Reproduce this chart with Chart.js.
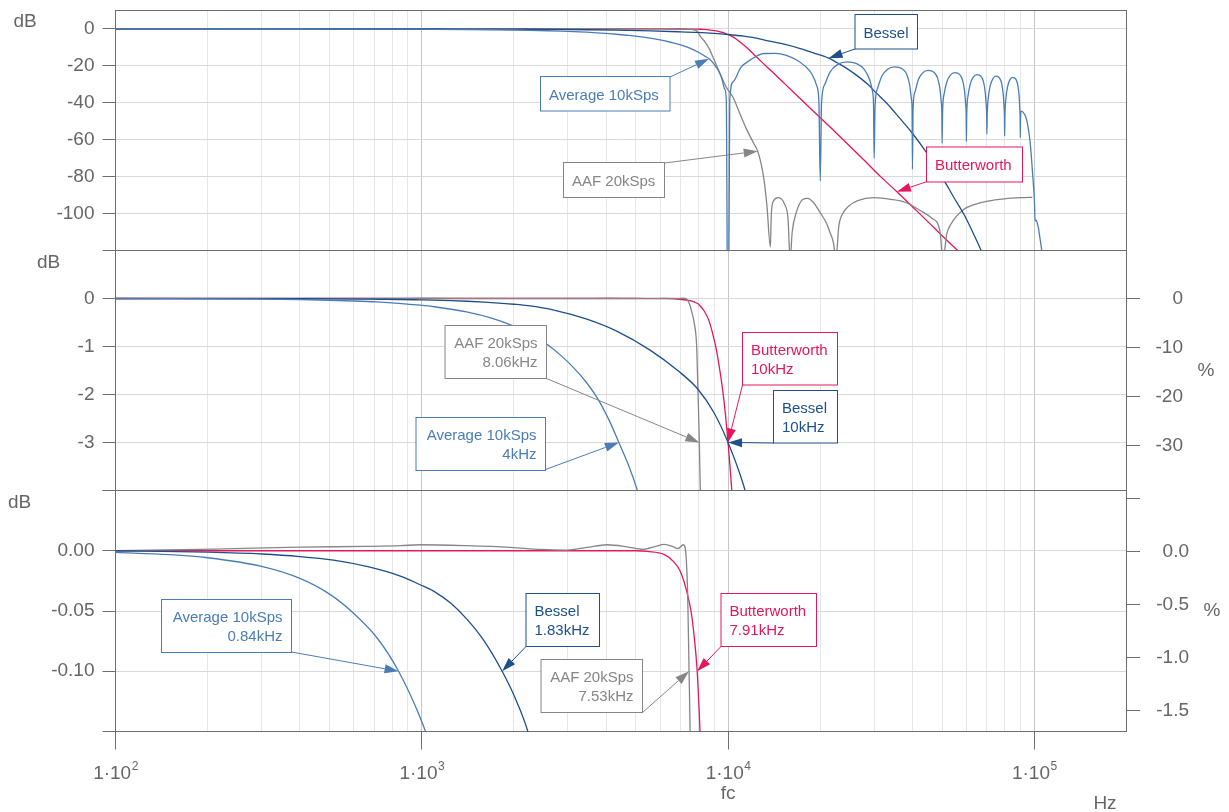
<!DOCTYPE html>
<html>
<head>
<meta charset="utf-8">
<script src="https://cdn.jsdelivr.net/npm/chart.js@4.4.0/dist/chart.umd.min.js"></script>
<style>
  body { margin: 0; background: #fff; }
  #wrap { position: relative; width: 1229px; height: 812px; }
  canvas { position: absolute; left: 0; }
</style>
</head>
<body>
<div id="wrap">
  <canvas id="c1" width="1229" height="251" style="top:0px"></canvas>
  <canvas id="c2" width="1229" height="241" style="top:250px"></canvas>
  <canvas id="c3" width="1229" height="322" style="top:490px"></canvas>
</div>
<script>
// ---- data (Hz, dB) ----
const avgHz = [100, 150, 200, 300, 400, 500, 600, 713, 840, 990,
  1100, 1400, 1700, 1950, 2250, 2570, 2850, 3140, 3450, 3740,
  4100, 4400, 4750, 5060, 5500, 6000, 6500, 7000, 7500, 8000,
  8400, 8670, 9000, 9300, 9550, 9750, 9870, 10000,
  10130, 10400, 11000, 11900, 13100, 14300, 15500, 16700, 17800, 18800, 19500, 19800, 20000,
  20200, 20700, 21500, 22800, 24500, 26300, 27800, 29000, 29600, 29850, 30000,
  30200, 30800, 31800, 33200, 35000, 37000, 38300, 39200, 39700, 39900, 40000,
  40200, 40800, 41800, 43200, 45000, 47000, 48300, 49200, 49700, 49900, 50000,
  50200, 50800, 51800, 53200, 55000, 57000, 58300, 59200, 59700, 59900, 60000,
  60200, 60800, 61800, 63200, 65000, 67000, 68300, 69200, 69700, 69900, 70000,
  70200, 70800, 71800, 73200, 75000, 77000, 78300, 79200, 79700, 79900, 80000,
  80200, 80800, 81800, 83200, 85000, 87000, 88300, 89200, 89700, 89900, 90000,
  90200, 90750, 93000, 94500, 95600, 97000, 98100, 99200, 100100, 100600, 101500, 102000, 103200, 104500, 105700, 110000];
const avgDb = [-0.0014, -0.0032, -0.0058, -0.013, -0.023, -0.036, -0.052, -0.072, -0.10, -0.139,
  -0.172, -0.28, -0.415, -0.55, -0.73, -0.96, -1.19, -1.45, -1.75, -2.07,
  -2.55, -3.0, -3.5, -4.0, -4.8, -5.9, -7.2, -8.6, -10.4, -12.6,
  -14.7, -16.2, -19.0, -22.5, -27, -32.5, -38.5, -200,
  -38.5, -28.5, -21, -16.5, -13.3, -13.2, -14.3, -16.7, -20, -24.5, -31, -39.5, -82.4,
  -40, -30, -23.5, -19.2, -17.8, -18.8, -21.8, -27.5, -33.5, -40.5, -70,
  -42, -32, -25.5, -21.8, -20.5, -21.5, -24.5, -30.5, -38, -44, -76,
  -43, -34, -27.5, -23.8, -22.4, -23.4, -26.5, -32.5, -40, -45, -62,
  -44, -35, -28.7, -25, -23.6, -24.6, -27.7, -33.7, -41, -46, -61,
  -45, -36, -29.8, -26.1, -24.7, -25.7, -28.8, -34.8, -42, -47, -57,
  -46, -37, -30.7, -27, -25.6, -26.6, -29.7, -35.7, -43, -48, -58,
  -46.5, -37.5, -31.3, -27.6, -26.2, -27.2, -30.3, -36.3, -43.5, -48.5, -59,
  -47, -44.5, -46.3, -49.5, -54, -62, -72, -83, -93, -104, -103.5, -104.5, -108, -114, -119.5, -135];

const besHz = [100, 200, 300, 400, 515, 661, 851, 984, 1093, 1250,
  1406, 1600, 1830, 2000, 2220, 2700, 3460, 4330, 5580, 6850,
  7950, 9000, 10000, 11250, 12000, 13400, 15000, 17100, 19000, 21300,
  23000, 25500, 28600, 30400, 33100, 36000, 39700, 44900, 50900, 54500,
  58900, 62500, 66800, 70000];
const besDb = [0, -0.0012, -0.0027, -0.0048, -0.0078, -0.013, -0.021, -0.028, -0.0335, -0.044,
  -0.057, -0.075, -0.10, -0.12, -0.15, -0.24, -0.43, -0.68, -1.08, -1.5,
  -1.88, -2.38, -3.0, -3.9, -4.6, -6.3, -8.0, -10.5, -13.0, -15.8,
  -18.8, -23.5, -30.0, -34.5, -40.5, -47.5, -55.8, -68, -82.4, -91,
  -100.4, -109, -119.3, -127];

const bwHz = [100, 5000, 5450, 6180, 6640, 6950, 7190, 7400, 7570, 7760,
  7930, 8100, 8360, 8650, 8900, 9150, 9350, 9600, 9820, 10000,
  10150, 10300, 10600, 11000, 11600, 12100, 13000, 14000, 15300, 17100,
  19000, 21500, 25000, 28000, 31500, 35600, 40000, 45000, 50000, 56400,
  62000];
const bwDb = [0, 0, -0.0006, -0.003, -0.009, -0.016, -0.026, -0.038, -0.05, -0.072,
  -0.10, -0.15, -0.26, -0.45, -0.72, -1.05, -1.4, -1.9, -2.45, -3.0,
  -3.5, -4.05, -5.3, -7.3, -10.6, -13.6, -18.5, -23.5, -29.6, -37.3,
  -44.6, -53, -63.5, -71.5, -80, -88.2, -96.3, -104.5, -112, -120.2,
  -126.5];

const aafHz = [100, 213, 401, 661, 851, 984, 1406, 1948, 2450, 2980,
  3460, 4030, 4680, 5270, 5850, 6180, 6620, 6850, 7150, 7230,
  7310, 7380, 7460, 7530, 7600, 7750, 7900, 7950, 8000, 8060,
  8120, 8360, 8670, 9000, 9500, 9900, 10400, 10900, 11500, 12100,
  12500, 12800, 13100, 13400, 13750,
  13850, 14100, 14600, 15300, 15700, 15950, 16200, 16700, 17500, 18200, 19000, 20000, 21000, 21500, 22100, 22500,
  23000, 23700, 24800, 26500, 30000, 34000, 38000, 42600, 46300, 49200, 50300,
  51800, 53400, 58900, 64000, 70500, 80000, 90800, 98500];
const aafDb = [0, 0.0014, 0.003, 0.0036, 0.0042, 0.005, 0.0042, 0.0028, 0.0011, 0.0006,
  0.0028, 0.005, 0.0033, 0.0011, 0.0039, 0.0053, 0.0033, 0.0017, 0.005, 0.0033,
  -0.0083, -0.034, -0.10, -0.16, -0.26, -0.5, -1.0, -1.6, -2.2, -3.0,
  -4.0, -6.5, -10.5, -16.6, -25.6, -31.9, -37.3, -45.4, -54.4, -61.6,
  -66.2, -72.4, -81.5, -95.9, -118,
  -100, -93, -91.4, -95, -103, -125, -110, -99.5, -92.5, -91.8, -94, -99.5, -105.5, -110, -116, -125,
  -106.7, -100, -95.9, -93, -91.4, -92.3, -94, -98.5, -102.5, -109.5, -125,
  -111, -105.8, -97.7, -95, -93.2, -92, -91.4, -91.2];

// ticks
const decadeExp = [2, 3, 4, 5];
const xMax = 200000;
const p1Ticks = [0, -20, -40, -60, -80, -100];
const p2Ticks = [0, -1, -2, -3];
const p3Ticks = [0, -0.05, -0.10];
const p2PctTicks = [0, -10, -20, -30];
const p3PctTicks = [0, -0.5, -1.0, -1.5];

const FONT = '"Liberation Sans", Arial, sans-serif';
const AXIS = '#6e6e6e', TXT = '#666666';
const C_AVG = '#4a7db6', C_BES = '#1c4f8b', C_BW = '#e3175a', C_AAF = '#868686';

Chart.defaults.font.family = FONT;

// label boxes (box / tail in page pixels, tip in data units)
const notes = [
  {panel: 1, lines: ['Average 10kSps'], color: C_AVG, align: 'left', box: [540.5, 76.5, 129.5, 34.5], tail: [670, 77], tip: [8670, -16.2]},
  {panel: 1, lines: ['AAF 20kSps'], color: C_AAF, align: 'left', box: [563.5, 162.5, 101, 35], tail: [664.5, 163], tip: [12500, -66.2]},
  {panel: 1, lines: ['Bessel'], color: C_BES, align: 'left', box: [855, 14.5, 62.5, 34.5], tail: [855, 49], tip: [21300, -15.8]},
  {panel: 1, lines: ['Butterworth'], color: C_BW, align: 'left', box: [926.5, 147, 96, 35], tail: [927, 181.5], tip: [35600, -88.2]},
  {panel: 2, lines: ['AAF 20kSps', '8.06kHz'], color: C_AAF, align: 'right', box: [445, 325.5, 101.5, 53], tail: [546.5, 378.5], tip: [8060, -3]},
  {panel: 2, lines: ['Average 10kSps', '4kHz'], color: C_AVG, align: 'right', box: [416, 417.5, 129.5, 53], tail: [545.5, 469.5], tip: [4400, -3]},
  {panel: 2, lines: ['Butterworth', '10kHz'], color: C_BW, align: 'left', box: [742.5, 332.5, 95, 52.5], tail: [742.5, 385], tip: [10000, -3]},
  {panel: 2, lines: ['Bessel', '10kHz'], color: C_BES, align: 'left', box: [773.5, 390.5, 64, 52.5], tail: [773.5, 443], tip: [10000, -3]},
  {panel: 3, lines: ['Average 10kSps', '0.84kHz'], color: C_AVG, align: 'right', box: [161.5, 599.5, 130, 53], tail: [291.5, 652], tip: [840, -0.10]},
  {panel: 3, lines: ['Bessel', '1.83kHz'], color: C_BES, align: 'left', box: [526, 593.5, 73.5, 53], tail: [526, 646.5], tip: [1830, -0.10]},
  {panel: 3, lines: ['AAF 20kSps', '7.53kHz'], color: C_AAF, align: 'right', box: [541, 659.5, 101.5, 53], tail: [642.5, 712.5], tip: [7460, -0.10]},
  {panel: 3, lines: ['Butterworth', '7.91kHz'], color: C_BW, align: 'left', box: [721, 593.5, 95.5, 53], tail: [721, 646.5], tip: [7930, -0.10]},
];

// gridline positions for the log axis: 1..9 per decade, up to the axis end
const xGrid = [];
decadeExp.forEach(e => {
  for (let m = 1; m <= 9; m++) {
    const v = m * Math.pow(10, e);
    if (v <= xMax) xGrid.push(v);
  }
});

const isDecade = v => Math.abs(Math.log10(v) - Math.round(Math.log10(v))) < 1e-9;
const inList = (list, v) => list.some(t => Math.abs(t - v) < 1e-9);
const pts = (hz, db) => hz.map((f, i) => ({x: f, y: db[i]}));

function lineSet(label, hz, db, color) {
  return {label, data: pts(hz, db), borderColor: color, borderWidth: 1.3,
    pointRadius: 0, fill: false, cubicInterpolationMode: 'monotone'};
}

function drawArrow(ctx, x0, y0, x1, y1, color) {
  const dx = x1 - x0, dy = y1 - y0, len = Math.hypot(dx, dy);
  const ux = dx / len, uy = dy / len, hl = 14, hw = 4.5;
  const bx = x1 - ux * hl, by = y1 - uy * hl;
  ctx.strokeStyle = color; ctx.fillStyle = color; ctx.lineWidth = 1;
  ctx.beginPath(); ctx.moveTo(x0, y0); ctx.lineTo(bx, by); ctx.stroke();
  ctx.beginPath();
  ctx.moveTo(x1, y1);
  ctx.lineTo(bx - uy * hw, by + ux * hw);
  ctx.lineTo(bx + uy * hw, by - ux * hw);
  ctx.closePath(); ctx.fill();
}

function txt(ctx, s, x, y, size, align, base) {
  ctx.font = size + 'px ' + FONT;
  ctx.textAlign = align || 'center';
  ctx.textBaseline = base || 'middle';
  ctx.fillStyle = TXT;
  ctx.fillText(s, x, y);
}

function makePanel(p) {
  const top = p.top;
  const decor = {
    id: 'decor' + p.panel,
    beforeDatasetsDraw(chart) {
      const a = chart.chartArea, ctx = chart.ctx;
      ctx.save();
      ctx.strokeStyle = AXIS; ctx.lineWidth = 1;
      ctx.strokeRect(a.left, a.top, a.right - a.left, a.bottom - a.top);
      ctx.restore();
    },
    afterDatasetsDraw(chart) {
      const ctx = chart.ctx, xs = chart.scales.x, ys = chart.scales.y;
      ctx.save();
      notes.filter(n => n.panel === p.panel).forEach(n => {
        const tx = xs.getPixelForValue(n.tip[0]), ty = ys.getPixelForValue(n.tip[1]);
        drawArrow(ctx, n.tail[0], n.tail[1] - top, tx, ty, n.color);
        const [bx, by, bw, bh] = n.box;
        ctx.fillStyle = '#fff';
        ctx.fillRect(bx, by - top, bw, bh);
        ctx.strokeStyle = n.color; ctx.lineWidth = 1;
        ctx.strokeRect(bx, by - top, bw, bh);
        ctx.font = '15px ' + FONT;
        ctx.fillStyle = n.color;
        ctx.textBaseline = 'alphabetic';
        ctx.textAlign = n.align;
        const x = n.align === 'left' ? bx + 8.5 : bx + bw - 9;
        n.lines.forEach((s, i) => ctx.fillText(s, x, by - top + (n.lines.length === 1 ? 23 : 22.5 + i * 19)));
      });
      ctx.restore();
    },
    afterDraw(chart) {
      const ctx = chart.ctx;
      ctx.save();
      p.texts.forEach(t => txt(ctx, t[0], t[1], t[2] - top, 19, t[3], t[4]));
      if (p.showX) {
        const xs = chart.scales.x;
        decadeExp.forEach(e => {
          const x = xs.getPixelForValue(Math.pow(10, e));
          const base = '1\u00b710', sup = String(e);
          ctx.font = '19px ' + FONT; const w1 = ctx.measureText(base).width;
          ctx.font = '12px ' + FONT; const w2 = ctx.measureText(sup).width;
          const x0 = x - (w1 + w2) / 2;
          ctx.fillStyle = TXT; ctx.textAlign = 'left'; ctx.textBaseline = 'alphabetic';
          ctx.font = '19px ' + FONT; ctx.fillText(base, x0, 779 - top);
          ctx.font = '12px ' + FONT; ctx.fillText(sup, x0 + w1 + 0.5, 770 - top);
        });
        txt(ctx, 'fc', xs.getPixelForValue(10000), 799 - top, 19, 'center', 'alphabetic');
      }
      ctx.restore();
    }
  };

  const scales = {
    x: {
      type: 'logarithmic', min: 100, max: xMax,
      afterBuildTicks: ax => { ax.ticks = xGrid.map(v => ({value: v})); },
      afterFit: s => { s.height = p.xHeight; s.paddingLeft = 0; s.paddingRight = 0; },
      ticks: {display: false, autoSkip: false, callback: () => ''},
      grid: {
        color: c => isDecade(c.tick.value) ? '#c6c6c6' : '#e6e6e6',
        tickColor: c => isDecade(c.tick.value) ? AXIS : 'rgba(0,0,0,0)',
        drawTicks: !!p.showX, tickLength: 18
      },
      border: {display: false}
    },
    y: {
      type: 'linear', position: 'left', min: p.yMin, max: p.yMax,
      afterBuildTicks: ax => { ax.ticks = p.yTicks.concat(p.yEdges).map(v => ({value: v})); },
      afterFit: s => { s.width = 115.5; s.paddingTop = 0; s.paddingBottom = 0; },
      ticks: {
        autoSkip: false, color: TXT, font: {size: 19}, padding: 8,
        callback: v => inList(p.yTicks, v) ? Number(v).toFixed(p.dec) : ''
      },
      grid: {
        color: c => inList(p.yTicks, c.tick.value) ? '#d9d9d9' : 'rgba(0,0,0,0)',
        tickColor: AXIS, tickLength: 13
      },
      border: {display: false}
    }
  };
  let padRight = 102.5;
  if (p.pct) {
    const q = p.pct;
    padRight = 1229 - q.labelRight;
    scales.yp = {
      type: 'linear', position: 'right', min: q.min, max: q.max,
      afterBuildTicks: ax => { ax.ticks = q.ticks.concat(q.edges).map(v => ({value: v})); },
      afterFit: s => { s.width = q.labelRight - 1126.5; s.paddingTop = 0; s.paddingBottom = 0; },
      ticks: {
        autoSkip: false, color: TXT, font: {size: 19}, crossAlign: 'far',
        callback: v => inList(q.ticks, v) ? Number(v).toFixed(q.dec) : ''
      },
      grid: {drawOnChartArea: false, tickColor: AXIS, tickLength: 13.5},
      border: {display: false}
    };
  }

  return new Chart(document.getElementById(p.id), {
    type: 'line',
    data: {
      datasets: [
        lineSet('Average 10kSps', avgHz, avgDb, C_AVG),
        lineSet('Bessel', besHz, besDb, C_BES),
        lineSet('AAF 20kSps', aafHz, aafDb, C_AAF),
        lineSet('Butterworth', bwHz, bwDb, C_BW)
      ]
    },
    options: {
      responsive: false, animation: false, events: [],
      layout: {padding: {left: 0, right: padRight, top: p.padTop, bottom: p.padBottom}},
      plugins: {legend: {display: false}, tooltip: {enabled: false}},
      scales
    },
    plugins: [decor]
  });
}

makePanel({id: 'c1', panel: 1, top: 0, yMin: -120, yMax: 10, yTicks: p1Ticks, yEdges: [-120], dec: 0,
  padTop: 10.5, padBottom: 0.5, xHeight: 0, showX: false, pct: null,
  texts: [['dB', 25, 22]]});
makePanel({id: 'c2', panel: 2, top: 250, yMin: -4, yMax: 1, yTicks: p2Ticks, yEdges: [-4], dec: 0,
  padTop: 0.5, padBottom: 0.5, xHeight: 0, showX: false,
  pct: {min: -39.2, max: 9.86, ticks: p2PctTicks, edges: [], dec: 0, labelRight: 1183},
  texts: [['dB', 48.5, 263], ['%', 1206, 371]]});
makePanel({id: 'c3', panel: 3, top: 490, yMin: -0.15, yMax: 0.05, yTicks: p3Ticks, yEdges: [-0.15, 0.05], dec: 2,
  padTop: 0.5, padBottom: 0, xHeight: 80.5, showX: true,
  pct: {min: -1.698, max: 0.575, ticks: p3PctTicks, edges: [0.5], dec: 1, labelRight: 1189},
  texts: [['dB', 19.5, 503], ['%', 1212, 611], ['Hz', 1105, 809, 'center', 'alphabetic']]});
</script>
</body>
</html>
